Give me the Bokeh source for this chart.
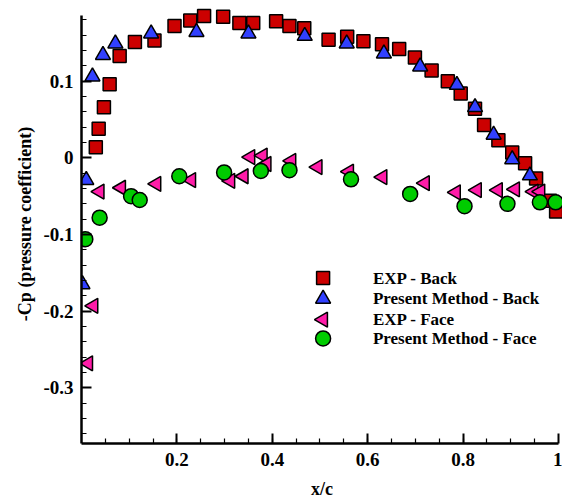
import numpy as np
from bokeh.plotting import figure
from bokeh.models import FixedTicker, Range1d
from bokeh.core.properties import value
from bokeh.embed import file_html
from bokeh.resources import INLINE

# Pressure distribution over the blade section (x/c, -Cp)
exp_back_x = [0.030, 0.036, 0.047, 0.059, 0.080, 0.112, 0.153, 0.195, 0.228, 0.257,
              0.297, 0.331, 0.360, 0.408, 0.436, 0.467, 0.518, 0.557, 0.591, 0.630,
              0.666, 0.699, 0.734, 0.768, 0.795, 0.825, 0.844, 0.874, 0.903, 0.930,
              0.953, 0.982, 0.995]
exp_back_cp = [0.014, 0.038, 0.066, 0.096, 0.133, 0.151, 0.153, 0.172, 0.179, 0.185,
               0.184, 0.176, 0.176, 0.178, 0.172, 0.169, 0.154, 0.158, 0.152, 0.148,
               0.142, 0.131, 0.114, 0.100, 0.084, 0.064, 0.043, 0.023, 0.007, -0.007,
               -0.027, -0.056, -0.070]

pm_back_x = [0.002, 0.010, 0.023, 0.045, 0.071, 0.146, 0.241, 0.350, 0.468, 0.556,
             0.634, 0.710, 0.787, 0.825, 0.864, 0.903, 0.940]
pm_back_cp = [-0.165, -0.029, 0.106, 0.134, 0.149, 0.162, 0.164, 0.162, 0.159, 0.149,
              0.136, 0.119, 0.095, 0.066, 0.030, -0.002, -0.023]

exp_face_x = [0.014, 0.025, 0.038, 0.083, 0.157, 0.230, 0.312, 0.340, 0.354, 0.380,
              0.388, 0.440, 0.495, 0.561, 0.631, 0.720, 0.785, 0.829, 0.873, 0.909,
              0.948, 0.962]
exp_face_cp = [-0.268, -0.193, -0.044, -0.039, -0.034, -0.029, -0.030, -0.024, 0.001, 0.003,
               -0.008, -0.004, -0.012, -0.018, -0.025, -0.033, -0.045, -0.042, -0.042, -0.041,
               -0.044, -0.044]

pm_face_x = [0.008, 0.038, 0.104, 0.122, 0.205, 0.299, 0.376, 0.436, 0.565, 0.689,
             0.803, 0.893, 0.961, 0.994]
pm_face_cp = [-0.106, -0.078, -0.050, -0.055, -0.024, -0.019, -0.017, -0.016, -0.028, -0.047,
              -0.063, -0.060, -0.058, -0.058]

series_names = ["EXP - Back", "Present Method - Back", "EXP - Face", "Present Method - Face"]

x_tick_values = [0.2, 0.4, 0.6, 0.8, 1.0]
x_tick_labels = ["0.2", "0.4", "0.6", "0.8", "1"]
y_tick_values = [-0.3, -0.2, -0.1, 0.0, 0.1]
y_tick_labels = ["-0.3", "-0.2", "-0.1", "0", "0.1"]

FONT = "Liberation Serif"
X_AXIS = (0.0, 1.0)
Y_AXIS = (-0.3725, 0.186)

# The frame reaches a little past the axes' ends so edge markers are not cut off
p = figure(width=562, height=501, output_backend="svg", toolbar_location=None,
           x_range=Range1d(0.0, 1.0084), y_range=Range1d(-0.3725, 0.200),
           min_border_left=81, min_border_right=0, min_border_top=4, min_border_bottom=54,
           x_axis_label="x/c", y_axis_label="-Cp (pressure coefficient)")
p.grid.visible = False
p.outline_line_color = None
p.background_fill_color = "white"
p.border_fill_color = "white"

p.xaxis.bounds = X_AXIS
p.yaxis.bounds = Y_AXIS

p.xaxis.ticker = FixedTicker(ticks=x_tick_values,
                             minor_ticks=[round(0.05 * i, 2) for i in range(1, 20)])
p.yaxis.ticker = FixedTicker(ticks=y_tick_values,
                             minor_ticks=[round(-0.36 + 0.02 * i, 2) for i in range(28)])
p.xaxis.major_label_overrides = dict(zip(x_tick_values, x_tick_labels))
p.yaxis.major_label_overrides = dict(zip(y_tick_values, y_tick_labels))

for ax in (p.xaxis, p.yaxis):
    ax.axis_line_width = 2.5
    ax.axis_line_color = "black"
    ax.major_tick_in = 10
    ax.major_tick_out = 0
    ax.minor_tick_in = 5
    ax.minor_tick_out = 0
    ax.major_tick_line_width = 2
    ax.minor_tick_line_width = 1.2
    ax.major_label_text_font = FONT
    ax.major_label_text_font_style = "bold"
    ax.major_label_text_font_size = "19px"
    ax.major_label_text_color = "black"
    ax.axis_label_text_font = FONT
    ax.axis_label_text_font_style = "bold"
    ax.axis_label_text_font_size = "18px"
    ax.axis_label_text_color = "black"
p.xaxis.major_label_standoff = 9
p.yaxis.major_label_standoff = 8
p.xaxis.axis_label_standoff = 10
p.yaxis.axis_label_standoff = 5

styles = [
    dict(marker="square", size=13, angle=0.0, fill_color="#cc0000"),
    dict(marker="triangle", size=15, angle=0.0, fill_color="#3140ff"),
    dict(marker="triangle", size=15, angle=np.pi / 2, fill_color="#ff1ca8"),
    dict(marker="circle", size=15, angle=0.0, fill_color="#00cc00"),
]
series = [(exp_back_x, exp_back_cp), (pm_back_x, pm_back_cp),
          (exp_face_x, exp_face_cp), (pm_face_x, pm_face_cp)]

for (xs, ys), st in zip(series, styles):
    p.scatter(xs, ys, line_color="black", line_width=1.5, **st)

# Key: one sample marker per series, followed by its name
key_x, key_text_x = 0.5065, 0.611
key_rows = [-0.1568, -0.1839, -0.2110, -0.2355]
for row_y, name, st in zip(key_rows, series_names, styles):
    p.scatter([key_x], [row_y], line_color="black", line_width=1.5, **st)
p.text(x=[key_text_x] * 4, y=key_rows, text=series_names,
       text_font=value(FONT), text_font_style="bold", text_font_size="17px",
       text_baseline="middle", text_align="left", text_color="black")

open("out.html", "w").write(file_html(p, INLINE))
